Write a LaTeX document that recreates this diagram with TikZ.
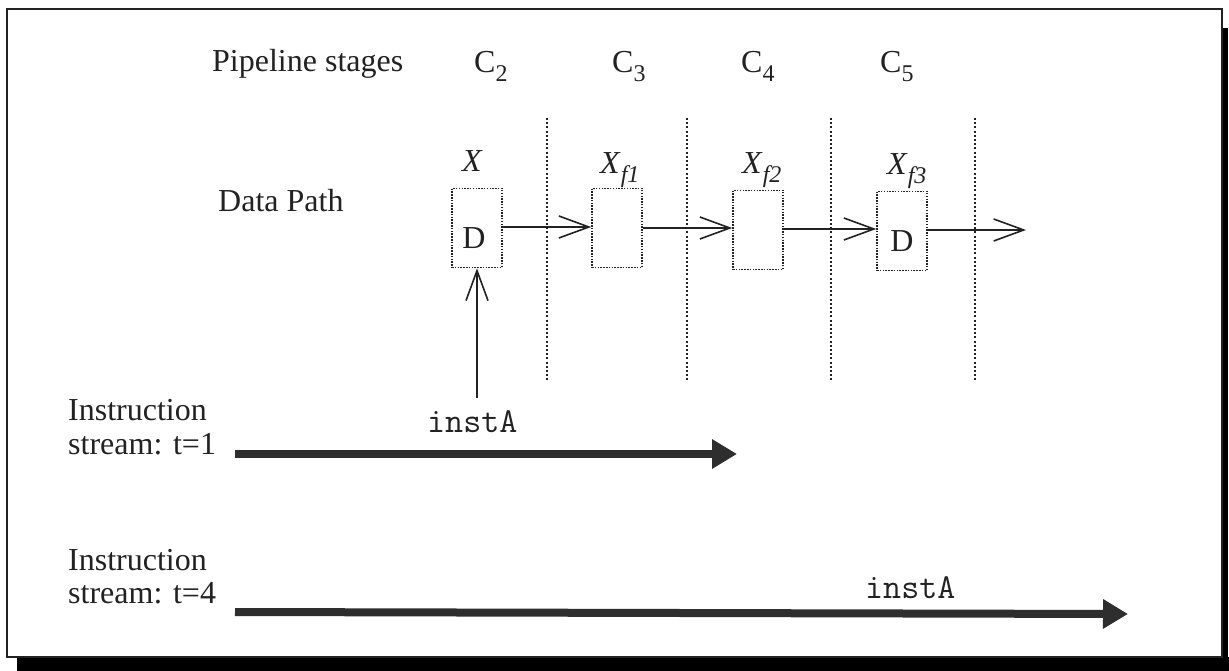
\documentclass[tikz,border=0pt]{standalone}
\usepackage{fontspec}
\setmainfont{Liberation Serif}
\usetikzlibrary{arrows.meta}
\definecolor{ink}{HTML}{222222}
\definecolor{thick}{HTML}{2E2E2E}
\newcommand{\sbs}[1]{\raisebox{-0.28em}{\fontsize{24}{26}\selectfont #1}}
\tikzset{
  lbl/.style={font=\fontsize{32}{36}\selectfont, inner sep=0pt, anchor=base west, text=ink},
  mono/.style={font=\fontsize{35}{38}\selectfont\ttfamily, inner sep=0pt, anchor=base west, text=ink},
  regbox/.style={draw=ink, line width=1.6pt, dash pattern=on 1.5pt off 1.3pt, minimum width=50pt, minimum height=79pt, inner sep=0pt},
  stageline/.style={draw=ink, line width=2.2pt, dash pattern=on 2pt off 2.2pt},
  openarrow/.style={draw=ink, line width=1.6pt, -{Straight Barb[length=30pt,width=22pt,line width=1.6pt]}},
  bigarrow/.style={draw=thick, line width=8pt, -{Triangle[length=25pt,width=28pt]}},
}
\begin{document}
\begin{tikzpicture}[x=1pt,y=-1pt]
\useasboundingbox (0,0) rectangle (1229,671);
% frame and shadow
\fill[thick] (17,657) rectangle (1229,671);
\fill[thick] (1221,28) rectangle (1228,671);
\draw[ink, line width=2pt, fill=white] (7,9) rectangle (1222,657);

% headings
\node[lbl] (ps) at (212,72) {Pipeline stages};
\node[lbl] (c2) at (474,73) {C\sbs{2}};
\node[lbl] (c3) at (612,73) {C\sbs{3}};
\node[lbl] (c4) at (741,73) {C\sbs{4}};
\node[lbl] (c5) at (880,73) {C\sbs{5}};
\node[lbl] (dp) at (218,212) {Data Path};

% stage separators
\foreach \i/\x in {1/547,2/687,3/831,4/975}{
  \coordinate (st\i) at (\x,118);
  \coordinate (sb\i) at (\x,382);
  \draw[stageline] (st\i) -- (sb\i);
}

% registers
\node[regbox] (bx) at (477,228) {};
\node[regbox] (b1) at (617,228) {};
\node[regbox] (b2) at (758,230) {};
\node[regbox] (b3) at (902,231) {};
\node[lbl, anchor=center] (dx) at (474,238) {D};
\node[lbl, anchor=center] (d3) at (902,241) {D};

% register labels
\node[lbl] (lx) at (462,172) {\textit{X}};
\node[lbl] (l1) at (600,174) {\textit{X}\sbs{\textit{f1}}};
\node[lbl] (l2) at (742,174) {\textit{X}\sbs{\textit{f2}}};
\node[lbl] (l3) at (887,175) {\textit{X}\sbs{\textit{f3}}};

% data path arrows
\coordinate (dend) at (1026,230);
\draw[openarrow] (bx.east |- 0,227) -- (b1.west |- 0,227);
\draw[openarrow] (b1.east |- 0,228) -- (b2.west |- 0,228);
\draw[openarrow] (b2.east |- 0,229) -- (b3.west |- 0,229);
\draw[openarrow] (b3.east |- 0,230) -- (dend);

% instruction input arrow
\coordinate (ia) at (477,398);
\draw[openarrow] (ia) -- (bx.south);
\node[mono] (i1) at (427,432) {instA};

% instruction streams
\node[lbl] (s1a) at (68,420) {Instruction};
\node[lbl] (s1b) at (68,454) {stream: t=1};
\coordinate (t1s) at (235,454);
\coordinate (t1e) at (737,454);
\draw[bigarrow] (t1s) -- (t1e);

\node[lbl] (s2a) at (68,570) {Instruction};
\node[lbl] (s2b) at (68,603) {stream: t=4};
\coordinate (t4s) at (235,612);
\coordinate (t4e) at (1128,614);
\draw[bigarrow] (t4s) -- (t4e);
\node[mono] (i2) at (865,598) {instA};
\end{tikzpicture}
\end{document}
